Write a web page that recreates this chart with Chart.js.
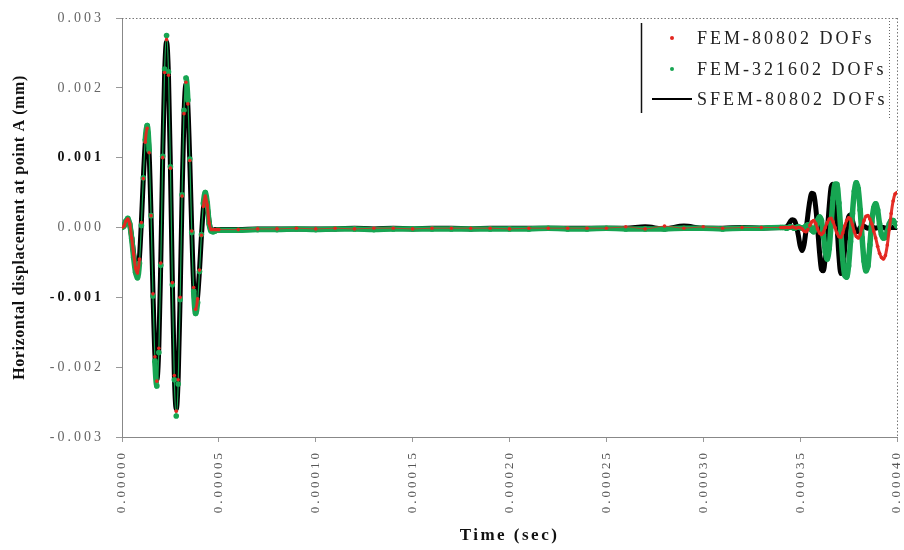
<!DOCTYPE html>
<html>
<head>
<meta charset="utf-8">
<script src="https://cdn.jsdelivr.net/npm/chart.js@4.4.1/dist/chart.umd.min.js"></script>
<style>
html,body{margin:0;padding:0;background:#fff;}
#wrap{width:904px;height:550px;position:relative;}
</style>
</head>
<body>
<div id="wrap"><canvas id="c" width="904" height="550"></canvas></div>
<script>
// ---------- DATA (time in microseconds, displacement in units of 0.001) ----------
const timePacketUs = [0,1,2,3,4,5,6,7,8,9,10,11,12,13,14,15,16,17,18,19,20,21,22,23,24,25,26,27,28,29,30,31,32,33,34,35,36,37,38,39,40,41,42,43,44,45,46,47,48,49,50];
const timeFlatUs = [60,70,80,90,100,110,120,130,140,150,160,170,180,190,200,210,220,230,240,250,260,270,280,290,300,310,320,330,340];
const timeLateUs = [341,342,343,344,345,346,347,348,349,350,351,352,353,354,355,356,357,358,359,360,361,362,363,364,365,366,367,368,369,370,371,372,373,374,375,376,377,378,379,380,381,382,383,384,385,386,387,388,389,390,391,392,393,394,395,396,397,398,399,400];

const xTickLabels = ["0.00000","0.00005","0.00010","0.00015","0.00020","0.00025","0.00030","0.00035","0.00040"];
const yTickLabels = ["-0.003","-0.002","-0.001","0.000","0.001","0.002","0.003"];

const seriesLabels = ["FEM-80802 DOFs","FEM-321602 DOFs","SFEM-80802 DOFs"];

// FEM-80802 DOFs (red)
const fem80802Packet = [0,0.02,0.09,0.12,0.05,-0.15,-0.38,-0.58,-0.65,-0.45,0.07,0.70,1.22,1.42,1.07,0.17,-0.95,-1.85,-2.20,-1.73,-0.51,1.00,2.22,2.69,2.18,0.85,-0.79,-2.12,-2.63,-2.18,-1.00,0.45,1.63,2.08,1.77,0.96,-0.05,-0.86,-1.17,-1.02,-0.61,-0.11,0.30,0.45,0.32,0.06,-0.03,-0.03,-0.03,-0.03,-0.03];
const fem80802Flat = [-0.03,-0.02,-0.02,-0.01,-0.02,-0.01,-0.02,-0.01,-0.01,-0.02,-0.01,-0.01,-0.01,-0.01,-0.02,-0.01,-0.01,-0.01,-0.01,-0.01,0.01,-0.02,0.02,-0.01,0.01,-0.01,0.00,0.00,0.00];
const fem80802Late = [0,0,0,0,0,0.01,0,-0.01,0,0,-0.02,-0.05,-0.06,-0.03,0.03,0.08,0.10,0.06,-0.02,-0.08,-0.10,-0.07,0.00,0.07,0.12,0.13,0.08,0.00,-0.08,-0.13,-0.14,-0.08,0.02,0.10,0.14,0.12,0.04,-0.06,-0.13,-0.15,-0.10,0.00,0.10,0.16,0.17,0.12,0.05,-0.05,-0.15,-0.27,-0.37,-0.43,-0.45,-0.40,-0.25,-0.03,0.20,0.38,0.48,0.50];

// FEM-321602 DOFs (green)
const fem321602Packet = [0,0.02,0.09,0.13,0.05,-0.16,-0.43,-0.64,-0.72,-0.51,0.03,0.71,1.25,1.46,1.10,0.17,-0.98,-1.91,-2.27,-1.79,-0.54,1.02,2.27,2.75,2.23,0.87,-0.82,-2.18,-2.70,-2.24,-1.03,0.47,1.68,2.14,1.82,0.98,-0.07,-0.91,-1.23,-1.07,-0.63,-0.10,0.34,0.50,0.35,0.05,-0.05,-0.06,-0.05,-0.04,-0.04];
const fem321602Flat = [-0.04,-0.03,-0.03,-0.02,-0.03,-0.02,-0.02,-0.03,-0.02,-0.02,-0.02,-0.02,-0.02,-0.02,-0.02,-0.02,-0.01,-0.02,-0.02,-0.01,-0.02,-0.02,-0.02,-0.01,-0.01,-0.02,-0.01,-0.01,0.00];
const fem321602Late = [0.00,0.00,-0.01,0.00,0.01,0.00,-0.01,0.00,0.01,0.00,-0.01,0.00,0.02,0.04,0.02,-0.04,-0.06,0.00,0.10,0.15,0.10,-0.10,-0.35,-0.45,-0.30,0.05,0.42,0.62,0.62,0.35,-0.05,-0.45,-0.68,-0.71,-0.55,-0.20,0.20,0.52,0.64,0.55,0.25,-0.15,-0.48,-0.62,-0.55,-0.25,0.08,0.28,0.34,0.25,0.05,-0.10,-0.15,-0.14,-0.05,0.05,0.10,0.10,0.06,0.02];

// SFEM-80802 DOFs (black)
const sfem80802Packet = [0,0.02,0.08,0.11,0.04,-0.14,-0.37,-0.55,-0.62,-0.43,0.08,0.70,1.21,1.40,1.06,0.16,-0.94,-1.84,-2.18,-1.72,-0.51,0.99,2.20,2.66,2.16,0.84,-0.78,-2.10,-2.60,-2.16,-0.99,0.44,1.61,2.05,1.74,0.94,-0.04,-0.84,-1.15,-1.00,-0.61,-0.12,0.27,0.42,0.30,0.08,-0.03,-0.04,-0.03,-0.03,-0.03];
const sfem80802Flat = [-0.03,-0.02,-0.02,-0.02,-0.02,-0.02,-0.01,-0.02,-0.01,-0.02,-0.01,-0.01,-0.02,-0.01,-0.01,-0.01,-0.01,-0.01,-0.01,-0.01,-0.01,0.01,-0.02,0.02,-0.01,-0.01,0.00,-0.01,0.00];
const sfem80802Late = [0,0,0.01,0.04,0.09,0.11,0.10,0.03,-0.10,-0.26,-0.33,-0.25,-0.05,0.18,0.38,0.49,0.48,0.30,0.00,-0.35,-0.60,-0.62,-0.42,-0.08,0.30,0.58,0.62,0.42,0.05,-0.40,-0.66,-0.60,-0.30,0.00,0.15,0.18,0.10,0.00,-0.06,-0.05,0.00,0.03,0.02,0.00,-0.01,0.00,0.01,0.00,-0.01,0.00,0.01,0.00,0.00,-0.01,0.00,0.01,0.00,0.00,0.00,0.00];

// ---------- BUILD ----------
const timeUs = [...timePacketUs, ...timeFlatUs, ...timeLateUs];
function toPoints(packet, flat, late) {
  const v = [...packet, ...flat, ...late];
  return timeUs.map((t, i) => ({x: t * 1e-6, y: v[i] * 1e-3}));
}
const SERIF = "'Liberation Serif','Times New Roman',serif";
const RED = '#e3261f', GREEN = '#17a552', BLACK = '#000000';

// stroke width per segment: thin on very steep segments (sparse markers there)
const widthBySlope = (steep, flat) => ctx => (Math.abs(ctx.p1.y - ctx.p0.y) > 30 ? steep : flat);
// red: thin on the near-zero baseline, markers only on steep strokes
const redWidth = ctx => {
  const a = Math.max(Math.abs(ctx.p0.parsed.y), Math.abs(ctx.p1.parsed.y));
  if (a < 0.00004) return 0.8;
  return Math.abs(ctx.p1.y - ctx.p0.y) > 20 ? 0.01 : 3;
};
const redColor = ctx => (Math.abs(ctx.p1.y - ctx.p0.y) > 20 ? 'rgba(227,38,31,0)' : 'rgba(227,38,31,0.95)');

const legendPlugin = {
  id: 'insideLegend',
  afterDraw(chart) {
    const {ctx, chartArea: ca} = chart;
    const L = ca.right - 256;
    ctx.save();
    ctx.letterSpacing = '3px';
    ctx.strokeStyle = '#111'; ctx.lineWidth = 1.5; ctx.setLineDash([]);
    ctx.beginPath(); ctx.moveTo(L + 0.5, ca.top + 5); ctx.lineTo(L + 0.5, ca.top + 95); ctx.stroke();
    ctx.strokeStyle = '#666'; ctx.lineWidth = 1; ctx.setLineDash([1, 2]);
    ctx.beginPath(); ctx.moveTo(ca.right - 7.5, ca.top + 3); ctx.lineTo(ca.right - 7.5, ca.top + 100); ctx.stroke();
    ctx.setLineDash([]);
    const rows = [20, 51, 81];
    const ds = chart.data.datasets;
    ds.forEach((d, i) => {
      const y = ca.top + rows[i];
      if (d.legendKind === 'line') {
        ctx.strokeStyle = d.borderColor; ctx.lineWidth = 2;
        ctx.beginPath(); ctx.moveTo(L + 11, y); ctx.lineTo(L + 51, y); ctx.stroke();
      } else {
        ctx.fillStyle = d.pointBackgroundColor;
        ctx.beginPath(); ctx.arc(L + 31, y, 2, 0, Math.PI * 2); ctx.fill();
      }
      ctx.fillStyle = '#222';
      ctx.font = "18px " + SERIF;
      ctx.textBaseline = 'middle'; ctx.textAlign = 'left';
      ctx.fillText(d.label, L + 56, y + 1);
    });
    ctx.restore();
  }
};

const framePlugin = {
  id: 'frame',
  beforeDatasetsDraw(chart) {
    const {ctx, chartArea: ca} = chart;
    ctx.save();
    ctx.strokeStyle = '#777'; ctx.lineWidth = 1; ctx.setLineDash([1.5, 2]);
    ctx.beginPath();
    ctx.moveTo(ca.left, ca.top + 0.5); ctx.lineTo(ca.right, ca.top + 0.5);
    ctx.moveTo(ca.right + 0.5, ca.top); ctx.lineTo(ca.right + 0.5, ca.bottom);
    ctx.stroke();
    ctx.restore();
  }
};

const spacingPlugin = {
  id: 'spacing',
  afterLayout(chart) {
    const cfg = {x: '2.5px', y: '0.6px'};
    Object.keys(cfg).forEach(k => {
      const s = chart.scales[k];
      if (s && !s._wrappedTitle) {
        const orig = s.drawTitle.bind(s);
        s.drawTitle = function () {
          const c = this.ctx; const prev = c.letterSpacing;
          c.letterSpacing = cfg[k]; orig(); c.letterSpacing = prev;
        };
        s._wrappedTitle = true;
      }
    });
  },
  beforeDraw(chart) { chart.ctx.letterSpacing = '3px'; },
  afterDraw(chart) { chart.ctx.letterSpacing = '0px'; }
};

const isBoldTick = c => !!(c && c.tick) && Math.abs(Math.abs(c.tick.value) - 0.001) < 1e-9;

new Chart(document.getElementById('c'), {
  type: 'line',
  data: {
    datasets: [
      {
        label: seriesLabels[0], data: toPoints(fem80802Packet, fem80802Flat, fem80802Late),
        borderColor: 'rgba(227,38,31,0.95)', borderWidth: 2.5, pointRadius: 1.8, pointBorderWidth: 0,
        pointBackgroundColor: RED, cubicInterpolationMode: 'monotone', order: 0, legendKind: 'point',
        segment: {borderWidth: redWidth, borderColor: redColor}
      },
      {
        label: seriesLabels[1], data: toPoints(fem321602Packet, fem321602Flat, fem321602Late),
        borderColor: GREEN, borderWidth: 4, pointRadius: 2.8, pointBorderWidth: 0,
        pointBackgroundColor: GREEN, cubicInterpolationMode: 'monotone', order: 1, legendKind: 'point',
        segment: {borderWidth: widthBySlope(1.2, 5.5)}
      },
      {
        label: seriesLabels[2], data: toPoints(sfem80802Packet, sfem80802Flat, sfem80802Late),
        borderColor: BLACK, borderWidth: 5, pointRadius: 0,
        cubicInterpolationMode: 'monotone', order: 2, legendKind: 'line'
      }
    ]
  },
  options: {
    responsive: false,
    animation: false,
    devicePixelRatio: 1,
    layout: {padding: {left: 0, right: 7, top: 18, bottom: 0}},
    plugins: {legend: {display: false}, tooltip: {enabled: false}},
    scales: {
      x: {
        type: 'linear', min: 0, max: 0.0004,
        afterFit(s) { s.height = 113; s.paddingLeft = 0; s.paddingRight = 0; },
        afterBuildTicks(s) { s.ticks = xTickLabels.map(l => ({value: parseFloat(l)})); },
        ticks: {
          autoSkip: false, maxRotation: 90, minRotation: 90, padding: 8,
          color: '#555', font: {family: SERIF, size: 13},
          callback: (v, i) => xTickLabels[i]
        },
        grid: {drawOnChartArea: false, drawTicks: true, tickLength: 5, tickColor: '#999'},
        border: {display: true, color: '#888', width: 1, dash: [1.5, 2.5]},
        title: {display: true, text: 'Time (sec)', color: '#111', font: {family: SERIF, size: 17, weight: 'bold'}, padding: {top: 0, bottom: 4}}
      },
      y: {
        type: 'linear', min: -0.003, max: 0.003,
        afterFit(s) { s.width = 122; s.paddingTop = 0; s.paddingBottom = 0; },
        afterBuildTicks(s) { s.ticks = yTickLabels.map(l => ({value: parseFloat(l)})); },
        ticks: {
          padding: 12,
          color: c => isBoldTick(c) ? '#111' : '#666',
          font: c => ({family: SERIF, size: 14, weight: isBoldTick(c) ? 'bold' : 'normal'}),
          callback: (v, i) => yTickLabels[i]
        },
        grid: {drawOnChartArea: false, drawTicks: true, tickLength: 6, tickColor: '#999'},
        border: {display: true, color: '#888', width: 1, dash: [5, 3]},
        title: {display: true, text: 'Horizontal displacement at point A (mm)', color: '#111', font: {family: SERIF, size: 16, weight: 'bold'}, padding: {top: 10, bottom: 0}}
      }
    }
  },
  plugins: [spacingPlugin, framePlugin, legendPlugin]
});
</script>
</body>
</html>
